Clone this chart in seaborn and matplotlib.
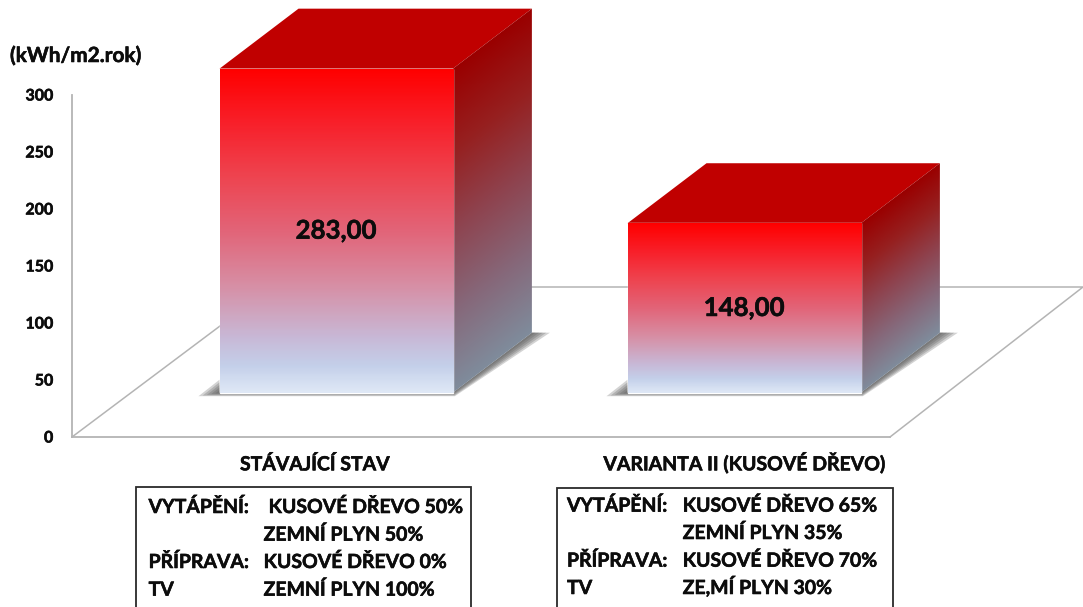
#! /usr/bin/python3

import numpy as np
import pandas as pd
import seaborn as sns
from matplotlib import pyplot as plt
from matplotlib import patheffects
from matplotlib.colors import LinearSegmentedColormap
from matplotlib.patches import Polygon, Rectangle
from matplotlib.text import Text

# data
categories = ["STÁVAJÍCÍ STAV", "VARIANTA II (KUSOVÉ DŘEVO)"]
values = [283, 148]
value_labels = ["283,00", "148,00"]
y_ticks = [0, 50, 100, 150, 200, 250, 300]
unit_label = "(kWh/m2.rok)"
box_left_col = ["VYTÁPĚNÍ:", "", "PŘÍPRAVA:", "TV"]
box1_right_col = ["KUSOVÉ DŘEVO 50%", "ZEMNÍ PLYN 50%", "KUSOVÉ DŘEVO 0%", "ZEMNÍ PLYN 100%"]
box2_right_col = ["KUSOVÉ DŘEVO 65%", "ZEMNÍ PLYN 35%", "KUSOVÉ DŘEVO 70%", "ZE,MÍ PLYN 30%"]

W, H = 1083, 607
FONT = ["Lato", "DejaVu Sans"]
INK = "#0c0c0c"
TXT = 14

sns.set_theme(style="white")
plt.rcParams["font.family"] = FONT
plt.rcParams["font.weight"] = "bold"

front_cmap = LinearSegmentedColormap.from_list("front", [
    (0, "#ff0000"), (0.167, "#f8202a"), (0.333, "#ee4450"), (0.5, "#e26478"),
    (0.667, "#d78ea4"), (0.83, "#c8b8d6"), (0.92, "#c4d0ea"), (1, "#dfe8f6")])
side_cmap = LinearSegmentedColormap.from_list(
    "side", ["#9a0000", "#962020", "#8e4450", "#86687a", "#7f8c9c"])


def px(x, y):
    return x / W, 1 - y / H


fig = plt.figure(figsize=(W / 100, H / 100), dpi=100, facecolor="white")

# wall and floor, real y axis
ax_wall = fig.add_axes([72 / W, (H - 437) / H, (890 - 72) / W, (437 - 95) / H])
ax_wall.set_xlim(72, 890)
ax_wall.set_ylim(0, 300)
floor_depth = 150 / (342 / 300)
ax_wall.plot([72, 272, 1083, 890], [0, floor_depth, floor_depth, 0],
             color="#b4b4b4", lw=1.1, clip_on=False)
sns.despine(ax=ax_wall, top=True, right=True)
for side in ("left", "bottom"):
    ax_wall.spines[side].set_color("#b4b4b4")
    ax_wall.spines[side].set_linewidth(1.3)
ax_wall.set_yticks(y_ticks)
ax_wall.set_yticklabels([str(t) for t in y_ticks], fontsize=11.5, fontweight="bold", color=INK)
ax_wall.set_xticks([315, 745])
ax_wall.set_xticklabels(categories, fontsize=TXT, fontweight="bold", color=INK, va="baseline")
ax_wall.tick_params(axis="y", length=0, pad=13.5)
ax_wall.tick_params(axis="x", length=0, pad=24)

# bars on a transparent axes spanning the figure
ax = fig.add_axes([0, 0, 1, 1], zorder=2)
ax.patch.set_visible(False)
df = pd.DataFrame({"cat": categories, "val": values})
sns.barplot(data=df, x="cat", y="val", width=0.572, color="#ff0000", saturation=1, ax=ax)
spacing = 408.0
px_per_unit = 1.145
ax.set_xlim(-336.2 / spacing, (W - 336.2) / spacing)
ax.set_ylim((392.7 - H) / px_per_unit, 392.7 / px_per_unit)
ax.axis("off")

depth_x = 79 / spacing
depth_y = 60 / px_per_unit

bars = list(ax.patches)
for bar in bars:
    x0, x1, h = bar.get_x(), bar.get_x() + bar.get_width(), bar.get_height()

    # soft shadow on the floor, nested polygons
    for s in (1, 0.8, 0.6, 0.4, 0.2):
        shadow_pts = [(x0 - 21 * s / spacing, -3.5 * s / px_per_unit), (x0, 13 * s / px_per_unit),
                      (x0, 0), (x1, 0), (x1 + depth_x, depth_y),
                      (x1 + depth_x + 18 * s / spacing, depth_y),
                      (x1 + 2 * s / spacing, -3.5 * s / px_per_unit)]
        ax.add_patch(Polygon(shadow_pts, closed=True, facecolor="#555555", edgecolor="none",
                             alpha=0.26, zorder=1))

    # top face
    ax.add_patch(Polygon([(x0, h), (x1, h), (x1 + depth_x, h + depth_y), (x0 + depth_x, h + depth_y)],
                         closed=True, facecolor="#c00000", edgecolor="none", zorder=3))

    # side face, gradient sheared along the depth direction
    side = Polygon([(x1, 0), (x1 + depth_x, depth_y), (x1 + depth_x, h + depth_y), (x1, h)],
                   closed=True, facecolor="none", edgecolor="none", zorder=3)
    ax.add_patch(side)
    gx, gy = np.meshgrid(np.linspace(0, 1, 80), np.linspace(0, h + depth_y, 400))
    shade = np.clip(1 - (gy - gx * depth_y) / h, 0, 1)
    im = ax.imshow(side_cmap(shade), origin="lower", aspect="auto", zorder=3,
                   extent=[x1, x1 + depth_x, 0, h + depth_y], interpolation="bilinear")
    im.set_clip_path(side)

    # front face
    im = ax.imshow(front_cmap(np.linspace(1, 0, 300)).reshape(300, 1, 4), origin="lower", aspect="auto",
                   extent=[x0, x1, 0, h], zorder=4, interpolation="bilinear")
    bar.set_zorder(4)
    im.set_clip_path(bar)

ax.set_xlim(-336.2 / spacing, (W - 336.2) / spacing)
ax.set_ylim((392.7 - H) / px_per_unit, 392.7 / px_per_unit)

for bar, label in zip(bars, value_labels):
    ax.text(bar.get_x() + bar.get_width() / 2, bar.get_height() / 2, label, ha="center", va="center",
            fontsize=18.6, fontweight="bold", color=INK, zorder=6)

# unit label
fig.text(*px(10, 56), unit_label, fontsize=15, fontweight="bold", color=INK, va="center", ha="left")

# text boxes, open at the lower figure edge
for box_x0, box_x1, box_y in ((136, 471, 487), (557, 893, 488)):
    fig.add_artist(Rectangle(px(box_x0, H + 10), (box_x1 - box_x0) / W, (H + 10 - box_y) / H,
                             transform=fig.transFigure, facecolor="none", edgecolor="#2a2a2a", lw=1.3))

box1_ys = [513, 540.7, 568, 595.7]
box2_ys = [511.7, 539, 566.7, 594]
box1_xs = [268.6, 263.6, 263.6, 263.6]
for left, right, y, xr in zip(box_left_col, box1_right_col, box1_ys, box1_xs):
    fig.text(*px(148.6, y), left, fontsize=TXT, fontweight="bold", color=INK, va="baseline")
    fig.text(*px(xr, y), right, fontsize=TXT, fontweight="bold", color=INK, va="baseline")
for left, right, y in zip(box_left_col, box2_right_col, box2_ys):
    fig.text(*px(567, y), left, fontsize=TXT, fontweight="bold", color=INK, va="baseline")
    fig.text(*px(682.7, y), right, fontsize=TXT, fontweight="bold", color=INK, va="baseline")

# Lato bold is a little thin next to the original face
for t in fig.findobj(Text):
    t.set_path_effects([patheffects.withStroke(linewidth=0.4, foreground=INK)])

fig.savefig("out.png", dpi=100)
